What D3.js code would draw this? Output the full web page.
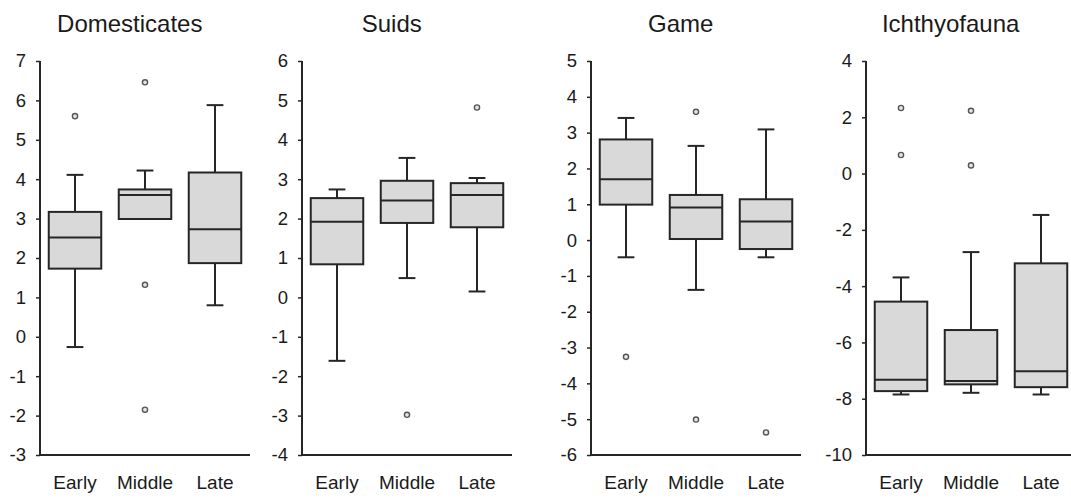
<!DOCTYPE html>
<html>
<head>
<meta charset="utf-8">
<script src="https://cdn.jsdelivr.net/npm/d3@7"></script>
<style>
  html, body { margin: 0; padding: 0; background: #fff; }
  svg { display: block; font-family: "Liberation Sans", Arial, sans-serif; }
</style>
</head>
<body>
<svg id="chart" width="1071" height="498"></svg>
<script>
// ---- data ----
const categories = ["Early", "Middle", "Late"];
const panelTitles = ["Domesticates", "Suids", "Game", "Ichthyofauna"];
const yDomains = [[-3, 7], [-4, 6], [-6, 5], [-10, 4]];
const yTickSteps = [1, 1, 1, 2];

// [lower whisker, Q1, median, Q3, upper whisker] for Early, Middle, Late
const domesticatesStats = [[-0.26, 1.73, 2.52, 3.17, 4.11], [2.99, 2.99, 3.60, 3.74, 4.22], [0.80, 1.87, 2.73, 4.17, 5.88]];
const domesticatesOutliers = [[5.6], [6.46, 1.32, -1.85], []];

const suidsStats = [[-1.61, 0.84, 1.92, 2.52, 2.74], [0.49, 1.89, 2.46, 2.96, 3.54], [0.15, 1.78, 2.60, 2.90, 3.03]];
const suidsOutliers = [[], [-2.98], [4.82]];

const gameStats = [[-0.48, 0.99, 1.70, 2.81, 3.41], [-1.39, 0.03, 0.91, 1.26, 2.63], [-0.48, -0.25, 0.52, 1.14, 3.09]];
const gameOutliers = [[-3.26], [3.58, -5.01], [-5.37]];

const ichthyofaunaStats = [[-7.85, -7.73, -7.33, -4.55, -3.69], [-7.79, -7.49, -7.37, -5.56, -2.79], [-7.85, -7.59, -7.02, -3.19, -1.47]];
const ichthyofaunaOutliers = [[2.33, 0.66], [2.23, 0.29], []];

const allStats = [domesticatesStats, suidsStats, gameStats, ichthyofaunaStats];
const allOutliers = [domesticatesOutliers, suidsOutliers, gameOutliers, ichthyofaunaOutliers];

// ---- layout ----
const panelLefts = [40, 302, 591, 866];
const panelWidth = 210;
const plotTop = 61, plotBottom = 455;
const ink = "#262626";
const boxFill = "#d9d9d9";

const svg = d3.select("#chart");

panelTitles.forEach((title, p) => {
  const left = panelLefts[p];
  const g = svg.append("g");

  const x = d3.scaleBand().domain(categories).range([left, left + panelWidth]).padding(0);
  const y = d3.scaleLinear().domain(yDomains[p]).range([plotBottom, plotTop]);
  const ticks = d3.range(yDomains[p][0], yDomains[p][1] + 0.001, yTickSteps[p]);

  // y axis
  const yAxisG = g.append("g")
    .attr("transform", `translate(${left},0)`)
    .call(d3.axisLeft(y).tickValues(ticks).tickSize(4).tickPadding(10).tickFormat(d3.format("d")));
  yAxisG.attr("font-size", 18.5).attr("font-family", '"Liberation Sans", Arial, sans-serif');
  yAxisG.select(".domain").attr("stroke", ink).attr("stroke-width", 2).attr("d", `M0,${plotTop}V${plotBottom}`);
  yAxisG.selectAll(".tick line").attr("stroke", ink).attr("stroke-width", 1.5);
  yAxisG.selectAll(".tick text")
    .attr("fill", "#1a1a1a")
    .text(d => d < 0 ? "-" + Math.abs(d) : String(d));

  // x axis
  const xAxisG = g.append("g")
    .attr("transform", `translate(0,${plotBottom})`)
    .call(d3.axisBottom(x).tickSize(0).tickPadding(21));
  xAxisG.attr("font-size", 19).attr("font-family", '"Liberation Sans", Arial, sans-serif');
  xAxisG.select(".domain").attr("stroke", ink).attr("stroke-width", 2)
    .attr("d", `M${left},0H${left + panelWidth}`);
  xAxisG.selectAll(".tick text").attr("fill", "#1a1a1a");

  // boxes
  const bw = x.bandwidth() * 0.75;
  const capW = x.bandwidth() * 0.24;
  const stats = allStats[p];
  categories.forEach((cat, i) => {
    const [lo, q1, med, q3, hi] = stats[i];
    const cx = x(cat) + x.bandwidth() / 2;
    const bg = g.append("g");
    // whiskers
    if (hi > q3) {
      bg.append("line").attr("x1", cx).attr("x2", cx).attr("y1", y(q3)).attr("y2", y(hi))
        .attr("stroke", ink).attr("stroke-width", 2);
      bg.append("line").attr("x1", cx - capW / 2).attr("x2", cx + capW / 2).attr("y1", y(hi)).attr("y2", y(hi))
        .attr("stroke", ink).attr("stroke-width", 2);
    }
    if (lo < q1) {
      bg.append("line").attr("x1", cx).attr("x2", cx).attr("y1", y(q1)).attr("y2", y(lo))
        .attr("stroke", ink).attr("stroke-width", 2);
      bg.append("line").attr("x1", cx - capW / 2).attr("x2", cx + capW / 2).attr("y1", y(lo)).attr("y2", y(lo))
        .attr("stroke", ink).attr("stroke-width", 2);
    }
    bg.append("rect").attr("x", cx - bw / 2).attr("width", bw)
      .attr("y", y(q3)).attr("height", y(q1) - y(q3))
      .attr("fill", boxFill).attr("stroke", ink).attr("stroke-width", 2);
    bg.append("line").attr("x1", cx - bw / 2).attr("x2", cx + bw / 2).attr("y1", y(med)).attr("y2", y(med))
      .attr("stroke", ink).attr("stroke-width", 2);
    // outliers
    bg.selectAll("circle.out").data(allOutliers[p][i]).join("circle")
      .attr("class", "out")
      .attr("cx", cx).attr("cy", d => y(d)).attr("r", 2.6)
      .attr("fill", "#e6e6e6").attr("stroke", "#555").attr("stroke-width", 1.4);
  });

  // title, centred over tick labels + plot
  const bb = yAxisG.node().getBBox();
  const cxTitle = (left + bb.x + left + panelWidth) / 2;
  g.append("text").attr("x", cxTitle).attr("y", 32).attr("text-anchor", "middle")
    .attr("font-size", 24).attr("fill", "#1a1a1a").text(title);
});
</script>
</body>
</html>
